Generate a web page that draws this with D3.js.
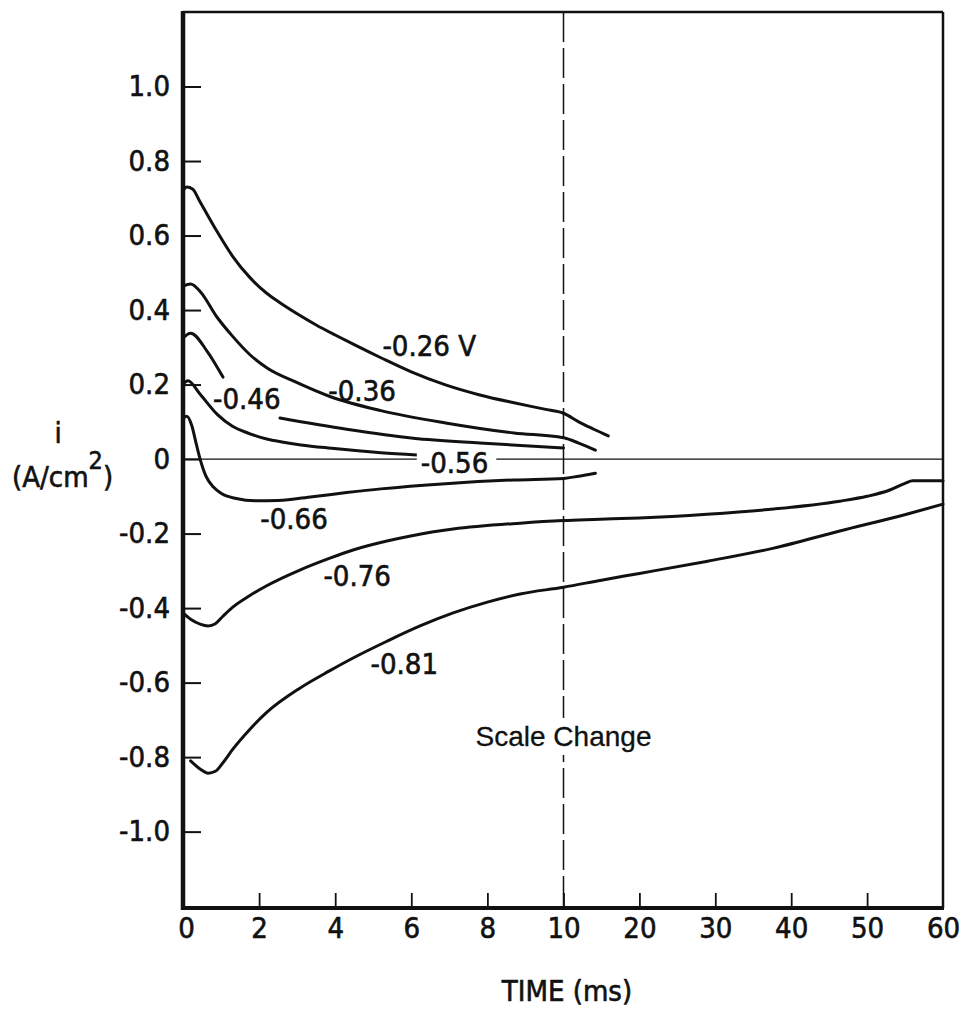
<!DOCTYPE html>
<html>
<head>
<meta charset="utf-8">
<script src="https://cdn.jsdelivr.net/npm/d3@7"></script>
<style>
  html, body { margin: 0; padding: 0; background: #fff; }
  svg { display: block; }
  .cond { font-family: 'DejaVu Sans Condensed', 'Liberation Sans Narrow', 'DejaVu Sans', sans-serif; font-stretch: condensed; stroke: #111; stroke-width: 0.6px; }
</style>
</head>
<body>
<svg id="chart" width="965" height="1010"></svg>
<script>
// ---------- data ----------
const xTicks = [0, 2, 4, 6, 8, 10, 20, 30, 40, 50, 60];
const yTicks = [-1.0, -0.8, -0.6, -0.4, -0.2, 0, 0.2, 0.4, 0.6, 0.8, 1.0];
const seriesNames = ["-0.26 V", "-0.36", "-0.46", "-0.56", "-0.66", "-0.76", "-0.81"];

// time (ms) and current density (A/cm^2); null marks a gap in the drawn trace
const t026 = [0, 0.1, 0.25, 0.45, 0.9, 1.3, 1.76, 2.2, 2.5, 3.0, 3.5, 4.0, 4.5, 5.2, 6.0, 6.9, 7.8, 8.7, 9.5, 10, 12, 14, 15.9];
const i026 = [0.72, 0.73, 0.725, 0.69, 0.61, 0.545, 0.487, 0.445, 0.423, 0.39, 0.36, 0.333, 0.307, 0.272, 0.234, 0.199, 0.172, 0.151, 0.134, 0.123, 0.10, 0.08, 0.062];

const t036 = [0, 0.2, 0.45, 0.9, 1.3, 1.76, 2.2, 3.0, 3.86, 5.2, 6.9, 8.7, 10, 12, 14.2];
const i036 = [0.464, 0.47, 0.45, 0.38, 0.33, 0.28, 0.245, 0.205, 0.168, 0.13, 0.097, 0.07, 0.057, 0.043, 0.024];

const t046 = [0, 0.2, 0.63, 1.05, 1.6, 2.55, 4.3, 6.05, 7.8, 10];
const i046 = [0.325, 0.338, 0.29, 0.22, null, 0.11, 0.08, 0.056, 0.043, 0.03];

const t056 = [0, 0.13, 0.45, 0.9, 1.3, 1.7, 2.2, 2.6, 3.1, 3.9, 5.2, 6.15];
const i056 = [0.20, 0.21, 0.174, 0.12, 0.088, 0.07, 0.054, 0.046, 0.038, 0.029, 0.017, 0.011];

const t066 = [0, 0.1, 0.23, 0.35, 0.45, 0.6, 0.8, 1.0, 1.4, 1.9, 2.5, 3.4, 4.3, 5.2, 6.9, 8.7, 10, 12, 14.2];
const i066 = [0.11, 0.115, 0.09, 0.04, 0.0, -0.045, -0.075, -0.092, -0.106, -0.112, -0.111, -0.101, -0.09, -0.08, -0.066, -0.056, -0.052, -0.046, -0.038];

const t076 = [0, 0.2, 0.45, 0.66, 0.85, 1.05, 1.3, 1.76, 2.2, 3.07, 3.86, 4.47, 5.36, 6.05, 7.1, 8.86, 10, 14, 20, 28.9, 37.7, 46.4, 50, 53, 55, 56, 60];
const i076 = [-0.413, -0.43, -0.443, -0.448, -0.442, -0.422, -0.398, -0.366, -0.34, -0.298, -0.266, -0.244, -0.22, -0.205, -0.188, -0.172, -0.165, -0.162, -0.158, -0.148, -0.134, -0.113, -0.1, -0.083, -0.065, -0.058, -0.058];

const t081 = [0.2, 0.45, 0.66, 0.85, 1.05, 1.3, 1.76, 2.2, 3.07, 3.86, 4.47, 5.36, 6.23, 7.1, 8.0, 8.86, 10, 15, 20, 29, 37.7, 46.4, 55.2, 60];
const i081 = [-0.81, -0.832, -0.843, -0.838, -0.815, -0.78, -0.725, -0.68, -0.615, -0.568, -0.534, -0.489, -0.448, -0.413, -0.384, -0.362, -0.344, -0.325, -0.307, -0.274, -0.239, -0.193, -0.148, -0.121];

// label anchors (time, current) for each curve's annotation
const labelT = [5.24, 3.82, 0.79, 6.25, 2.03, 3.69, 4.93];
const labelI = [0.277, 0.156, 0.134, -0.038, -0.188, -0.341, -0.577];

const seriesT = [t026, t036, t046, t056, t066, t076, t081];
const seriesI = [i026, i036, i046, i056, i066, i076, i081];

// ---------- drawing ----------
const svg = d3.select("#chart");
svg.append("rect").attr("width", 965).attr("height", 1010).attr("fill", "#fff");

const x = d3.scaleLinear().domain([0, 10, 60]).range([183, 563.5, 943]);
const y = d3.scaleLinear().domain([-1.205, 1.2]).range([908, 12]);

const FONT = 29;
const ink = "#111";

// zero line
svg.append("line")
  .attr("x1", x(0)).attr("x2", x(60))
  .attr("y1", y(0)).attr("y2", y(0))
  .attr("stroke", ink).attr("stroke-width", 1.3);

// scale-change dashed line
svg.append("line")
  .attr("x1", x(10)).attr("x2", x(10))
  .attr("y1", y(1.2)).attr("y2", y(-1.205))
  .attr("stroke", ink).attr("stroke-width", 1.5)
  .attr("stroke-dasharray", "30,6");

// y axis
const yAxis = d3.axisLeft(y)
  .tickValues(yTicks)
  .tickSize(-18)
  .tickPadding(13)
  .tickFormat(v => v === 0 ? "0" : v.toFixed(1));
const gy = svg.append("g").attr("transform", `translate(${x(0)},0)`).call(yAxis);
gy.select(".domain").remove();
gy.selectAll(".tick line").attr("stroke", ink).attr("stroke-width", 2);
gy.selectAll(".tick text").attr("class", "cond").attr("font-size", FONT).attr("fill", ink);

// x axis
const xAxis = d3.axisBottom(x)
  .tickValues(xTicks)
  .tickSize(-15)
  .tickPadding(9)
  .tickFormat(d3.format("d"));
const gx = svg.append("g").attr("transform", `translate(0,${y(-1.205)})`).call(xAxis);
gx.select(".domain").remove();
gx.selectAll(".tick line").attr("stroke", ink).attr("stroke-width", 1.8)
  .attr("display", d => (d === 0 || d === 60) ? "none" : null);
gx.selectAll(".tick text").attr("class", "cond").attr("font-size", FONT).attr("fill", ink)
  .attr("dx", d => d === 0 ? 3 : 0);

// frame
const x0 = x(0), x1 = x(60), yT = y(1.2), yB = y(-1.205);
svg.append("line").attr("x1", x0).attr("x2", x1).attr("y1", yT).attr("y2", yT)
  .attr("stroke", ink).attr("stroke-width", 2.5);
svg.append("line").attr("x1", x1).attr("x2", x1).attr("y1", yT).attr("y2", yB)
  .attr("stroke", ink).attr("stroke-width", 2.5);
svg.append("line").attr("x1", x0).attr("x2", x0).attr("y1", yT - 1).attr("y2", yB + 2)
  .attr("stroke", ink).attr("stroke-width", 4.5);
svg.append("line").attr("x1", x0 - 2).attr("x2", x1 + 1).attr("y1", yB).attr("y2", yB)
  .attr("stroke", ink).attr("stroke-width", 4);

// curves
const line = d3.line()
  .defined(d => d[1] !== null)
  .x(d => x(d[0]))
  .y(d => y(d[1]))
  .curve(d3.curveMonotoneX);

seriesNames.forEach((name, k) => {
  const pts = seriesT[k].map((t, j) => [t, seriesI[k][j]]);
  svg.append("path")
    .datum(pts)
    .attr("d", line)
    .attr("fill", "none")
    .attr("stroke", ink)
    .attr("stroke-width", 3)
    .attr("stroke-linejoin", "round")
    .attr("stroke-linecap", "round");
});

// curve labels
seriesNames.forEach((name, k) => {
  const g = svg.append("g");
  const txt = g.append("text")
    .attr("class", "cond")
    .attr("x", x(labelT[k]))
    .attr("y", y(labelI[k]))
    .attr("font-size", FONT)
    .attr("fill", ink)
    .text(name);
  if (k === 3) {
    const b = txt.node().getBBox();
    g.insert("rect", "text")
      .attr("x", b.x - 4).attr("y", b.y + 4)
      .attr("width", b.width + 12).attr("height", b.height - 6)
      .attr("fill", "#fff");
  }
});

// scale change note
{
  const g = svg.append("g");
  const txt = g.append("text")
    .attr("x", x(10))
    .attr("y", y(-0.770))
    .attr("text-anchor", "middle")
    .attr("font-family", "'Liberation Sans', Arial, sans-serif")
    .attr("font-size", 28)
    .attr("fill", ink)
    .attr("stroke", ink)
    .attr("stroke-width", 0.3)
    .text("Scale Change");
  const b = txt.node().getBBox();
  g.insert("rect", "text")
    .attr("x", b.x).attr("y", b.y - 3)
    .attr("width", b.width).attr("height", b.height + 6)
    .attr("fill", "#fff");
}

// axis titles
svg.append("text")
  .attr("class", "cond")
  .attr("x", 567).attr("y", 1001)
  .attr("text-anchor", "middle")
  .attr("font-size", FONT)
  .attr("fill", ink)
  .text("TIME (ms)");

svg.append("text")
  .attr("class", "cond")
  .attr("x", 58).attr("y", 443)
  .attr("text-anchor", "middle")
  .attr("font-size", FONT)
  .attr("fill", ink)
  .text("i");

const unit = svg.append("text")
  .attr("class", "cond")
  .attr("x", 12).attr("y", 487)
  .attr("font-size", FONT)
  .attr("fill", ink);
unit.append("tspan").text("(A/cm");
unit.append("tspan").attr("dy", -18).attr("font-size", 25).text("2");
unit.append("tspan").attr("dy", 18).text(")");
</script>
</body>
</html>
